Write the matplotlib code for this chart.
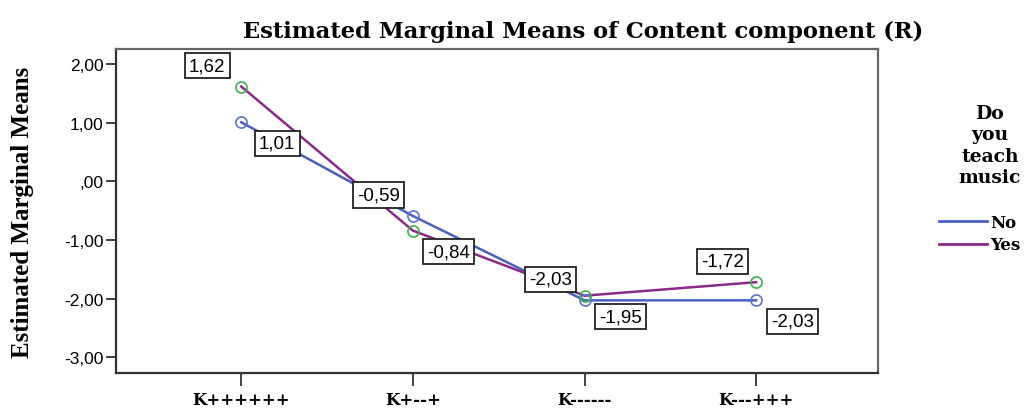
import matplotlib.pyplot as plt
from matplotlib.lines import Line2D
from matplotlib.ticker import FuncFormatter

# data
categories = ['K++++++', 'K+--+', 'K------', 'K---+++']
no_means = [1.01, -0.59, -2.03, -2.03]
yes_means = [1.62, -0.84, -1.95, -1.72]
y_ticks = [2, 1, 0, -1, -2, -3]

# which series gets the upper-left label at each category (the other gets lower-right)
upper_label = ['Yes', 'No', 'No', 'Yes']

BLUE = '#4a5fc0'
PURPLE = '#8a2a88'
GREEN = '#3fb24a'
FRAME = '#333333'

def fmt(v):
    s = f"{v:.2f}".replace('.', ',')
    if s.startswith('0,'):
        s = s[1:]
    if s == '-0,00':
        s = ',00'
    return s

fig = plt.figure(figsize=(10.29, 4.10), dpi=100)
ax = fig.add_axes([0.1127, 0.0878, 0.7406, 0.7902])

x = list(range(len(categories)))
ax.plot(x, no_means, color=BLUE, lw=1.8, zorder=3)
ax.plot(x, yes_means, color=PURPLE, lw=1.8, zorder=3)
ax.plot(x, no_means, ls='none', marker='o', ms=8, mfc='none', mec='#5b72d6', mew=1.2, zorder=4)
ax.plot(x, yes_means, ls='none', marker='o', ms=8, mfc='none', mec=GREEN, mew=1.2, zorder=4)

box = dict(boxstyle='square,pad=0.22', fc='white', ec='#222222', lw=1.3)
for i in range(len(categories)):
    for name, vals in (('No', no_means), ('Yes', yes_means)):
        if upper_label[i] == name:
            off = (-34, 21)
        else:
            off = (36, -21)
        ax.annotate(fmt(vals[i]), (i, vals[i]), xytext=off, textcoords='offset pixels',
                    ha='center', va='center', fontsize=13.5, family='Liberation Sans',
                    bbox=box, zorder=5)

ax.set_xlim(-0.73, 3.71)
ax.set_ylim(-3.27, 2.26)
ax.set_xticks(x)
ax.set_xticklabels(categories, family='DejaVu Serif', fontweight='bold', fontsize=12)
ax.set_yticks(y_ticks)
ax.yaxis.set_major_formatter(FuncFormatter(lambda v, p: fmt(v)))
for lab in ax.get_yticklabels():
    lab.set_family('Liberation Sans')
    lab.set_fontsize(12.5)

ax.tick_params(axis='y', length=7, width=1.3, color=FRAME, pad=2)
ax.tick_params(axis='x', length=9, width=1.3, color=FRAME, pad=4)
for side in ['left', 'bottom']:
    ax.spines[side].set_color(FRAME)
    ax.spines[side].set_linewidth(1.6)
for side in ['top', 'right']:
    ax.spines[side].set_color('#666666')
    ax.spines[side].set_linewidth(1.6)

ax.set_ylabel('Estimated Marginal Means', family='Liberation Serif', fontweight='bold',
              fontsize=18)
ax.yaxis.set_label_coords(-0.108, 0.5)
ax.set_title('Estimated Marginal Means of Content component (R)', family='DejaVu Serif',
             fontweight='bold', fontsize=16.3, pad=9, x=0.613)

# legend title drawn separately so it can be centred over the entries
fig.text(0.962, 0.745, 'Do\nyou\nteach\nmusic', ha='center', va='top', linespacing=1.25,
         family='DejaVu Serif', fontweight='bold', fontsize=13.5)
handles = [Line2D([], [], color=BLUE, lw=2), Line2D([], [], color=PURPLE, lw=2)]
fig.legend(handles, ['No', 'Yes'], loc='upper left', bbox_to_anchor=(0.904, 0.497),
           frameon=False, handlelength=2.9, handletextpad=0.2, labelspacing=0.35,
           borderpad=0, prop={'family': 'DejaVu Serif', 'weight': 'bold', 'size': 12})

fig.savefig('out.png', dpi=100)
